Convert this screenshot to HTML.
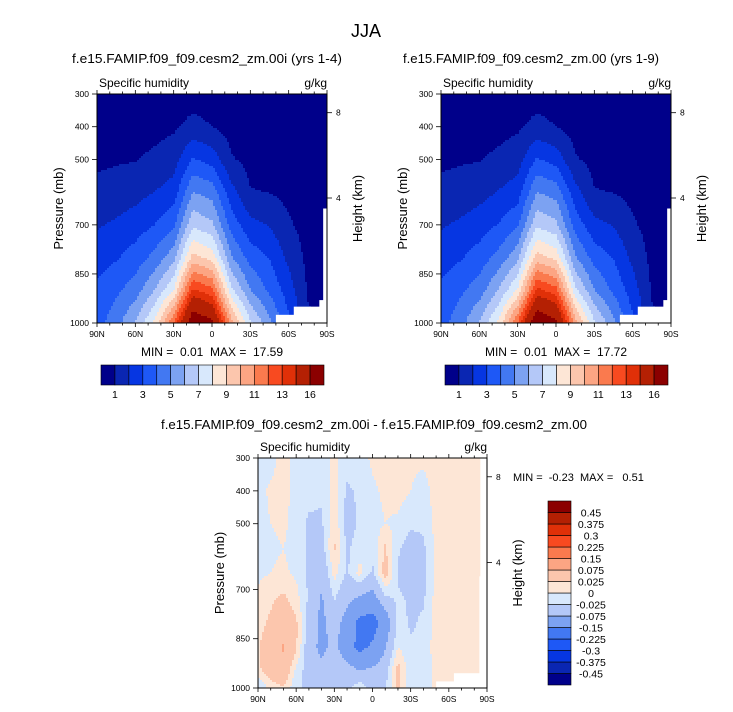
<!DOCTYPE html>
<html><head><meta charset="utf-8">
<style>
html,body{margin:0;padding:0;background:#fff;}
svg{display:block;font-family:"Liberation Sans",sans-serif;}
.pre{white-space:pre;}
</style></head>
<body>
<svg id="fig" width="733" height="712" viewBox="0 0 733 712" xmlns="http://www.w3.org/2000/svg">
<text x="366" y="37" font-size="18" text-anchor="middle">JJA</text>
</svg>
<script>
// ---------- data ----------
const lats = [90,75,60,45,30,15,0,-15,-30,-45,-60,-75,-90];
const pLevels = [300,400,500,600,700,800,900,1000];
const qA = [
 [0.3,0.5,0.8,1.3,1.9,2.55,3.2,3.6],
 [0.3,0.55,0.9,1.4,2.15,2.9,3.8,4.6],
 [0.35,0.6,0.95,1.65,2.5,3.45,4.5,6.1],
 [0.4,0.7,1.2,2.0,3.0,4.3,6.0,8.2],
 [0.45,0.85,1.55,2.45,3.8,5.6,8.0,12],
 [0.6,1.3,3.1,5.0,6.8,9.4,13.2,17.59],
 [0.5,1.0,2.6,4.6,6.2,8.6,12.3,16.4],
 [0.3,0.6,1.1,2.4,3.6,5.1,7.3,10.5],
 [0.2,0.4,0.7,1.05,2.3,3.6,5.05,7.2],
 [0.15,0.35,0.65,0.98,1.95,2.95,3.8,5.3],
 [0.1,0.25,0.45,0.7,1.15,1.75,2.5,3.2],
 [0.05,0.15,0.3,0.45,0.6,0.75,0.9,1.2],
 [0.02,0.08,0.2,0.3,0.4,0.5,0.6,0.7]
];
const qB = [
 [0.3,0.5,0.8,1.3,1.9,2.55,3.2,3.6],
 [0.3,0.55,0.9,1.4,2.15,2.9,3.8,4.6],
 [0.35,0.6,0.95,1.65,2.5,3.45,4.5,6.1],
 [0.4,0.7,1.2,2.05,3.05,4.35,6.05,8.2],
 [0.45,0.85,1.55,2.5,3.85,5.7,8.1,12.1],
 [0.6,1.3,3.1,5.0,6.8,9.5,13.3,17.72],
 [0.5,1.0,2.6,4.6,6.25,8.7,12.4,16.5],
 [0.3,0.6,1.1,2.4,3.6,5.1,7.3,10.5],
 [0.2,0.4,0.7,1.05,2.3,3.6,5.05,7.2],
 [0.15,0.35,0.65,0.98,1.95,2.95,3.8,5.3],
 [0.1,0.25,0.45,0.7,1.15,1.75,2.5,3.2],
 [0.05,0.15,0.3,0.45,0.6,0.75,0.9,1.2],
 [0.02,0.08,0.2,0.3,0.4,0.5,0.6,0.7]
];
const qLevels = [1,2,3,4,5,6,7,8,9,10,11,12,13,14,16];
const qLabels = ["1","3","5","7","9","11","13","16"];
const diffLats = [90,80,70,60,50,40,30,20,10,0,-10,-20,-30,-40,-50,-60,-70,-80,-90];
const diffP = [300,400,500,575,650,725,800,875,950,1000];
const qDiff = [
 [-0.01,-0.01,-0.01,-0.01,-0.005,0.005,0.015,0.02,0.02,-0.03],
 [-0.01,0.005,0.0,-0.005,0.0,0.02,0.03,0.05,0.04,0.01],
 [0.01,0.01,0.005,0.0,0.005,0.03,0.05,0.08,0.06,0.02],
 [-0.01,-0.01,-0.01,-0.01,-0.005,0.01,0.03,0.03,-0.01,-0.02],
 [-0.01,-0.015,-0.03,-0.03,-0.03,-0.03,-0.04,-0.05,-0.04,-0.03],
 [-0.01,-0.02,-0.03,-0.04,-0.06,-0.08,-0.09,-0.09,-0.06,-0.05],
 [0.005,0.01,0.02,0.03,0.01,-0.02,-0.05,-0.06,-0.03,-0.04],
 [-0.01,-0.03,-0.04,-0.03,-0.03,-0.06,-0.1,-0.12,-0.05,-0.04],
 [-0.01,-0.02,-0.02,-0.01,0.01,-0.08,-0.17,-0.17,-0.07,0.0],
 [0.005,-0.005,-0.01,-0.02,-0.03,-0.1,-0.18,-0.14,-0.06,-0.04],
 [0.01,0.005,0.0,0.03,0.04,-0.03,-0.12,-0.08,-0.04,-0.03],
 [0.01,0.01,-0.005,-0.02,-0.03,-0.02,-0.01,0.0,0.04,0.03],
 [0.005,0.0,-0.02,-0.04,-0.05,-0.03,-0.03,-0.02,-0.02,-0.02],
 [0.005,-0.01,-0.02,-0.03,-0.03,-0.03,-0.02,-0.02,-0.02,-0.02],
 [0.01,0.01,0.01,0.005,0.005,0.01,0.01,0.015,0.01,0.01],
 [0.01,0.01,0.015,0.01,0.01,0.01,0.01,0.01,0.01,0.01],
 [0.005,0.01,0.01,0.01,0.005,0.01,0.01,0.01,0.01,0.01],
 [0.01,0.01,0.01,0.01,0.01,0.01,0.01,0.01,0.01,0.01],
 [-0.01,-0.01,-0.01,-0.01,-0.01,-0.01,-0.01,-0.01,-0.01,-0.01]
];
const diffLevels = [-0.45,-0.375,-0.3,-0.225,-0.15,-0.075,-0.025,0,0.025,0.075,0.15,0.225,0.3,0.375,0.45];
const diffLabels = ["-0.45","-0.375","-0.3","-0.225","-0.15","-0.075","-0.025","0","0.025","0.075","0.15","0.225","0.3","0.375","0.45"];
const missingA = [[-50,-64,975],[-64,-84,950],[-84,-87,930],[-87,-90,650]];
const missingD = [[-50,-64,980],[-64,-84,955],[-84,-90,660]];
const pTicks = [300,400,500,700,850,1000];
const latTicks = [90,60,30,0,-30,-60,-90];
const latTickLabels = ["90N","60N","30N","0","30S","60S","90S"];
const hTicks = [8,4];
const colors = ["#00008a","#0a26b2","#0636e2","#1e58f6","#4278f2","#7ca2f2","#b4c8f8","#d8e8fc",
 "#fde6d6","#fcc6ad","#fca583","#fa7a4e","#f84a20","#e03008","#b42003","#8b0000"];

// ---------- drawing ----------
const NS="http://www.w3.org/2000/svg";
const svg=document.getElementById('fig');
function mk(tag,attrs,parent){const e=document.createElementNS(NS,tag);for(const k in attrs)e.setAttribute(k,attrs[k]);(parent||svg).appendChild(e);return e;}
function txt(x,y,s,size,anchor,parent,extra){const t=mk('text',Object.assign({x:x,y:y,'font-size':size,'text-anchor':anchor||'start'},extra||{}),parent);t.textContent=s;return t;}

function interp(latArr,pArr,vals,lat,p){
  let i=0;while(i<latArr.length-2&&lat<latArr[i+1])i++;
  let j=0;while(j<pArr.length-2&&p>pArr[j+1])j++;
  const fx=(latArr[i]-lat)/(latArr[i]-latArr[i+1]);
  const fy=(p-pArr[j])/(pArr[j+1]-pArr[j]);
  const a=vals[i][j],b=vals[i+1][j],c=vals[i][j+1],d=vals[i+1][j+1];
  return a*(1-fx)*(1-fy)+b*fx*(1-fy)+c*(1-fx)*fy+d*fx*fy;
}
function levelIndex(v,lev){let k=0;while(k<lev.length&&v>=lev[k])k++;return k;}

function panel(name,x0,y0,w,h,latArr,pArr,vals,lev,missing,opts){
  const g=mk('g',{});
  
  
  const xS=lat=>x0+(90-lat)/180*w;
  const yS=p=>y0+(p-300)/700*h;
  const st=2;
  const cells=mk('g',{},g);
  
  
  for(let py=0;py<h;py+=st){
    const p=300+(py+st/2)/h*700;
    let runStart=0,runCol=null;
    const hh=Math.min(st,h-py);
    for(let px=0;px<=w;px+=st){
      let col=null;
      if(px<w){const lat=90-(px+st/2)/w*180;col=colors[levelIndex(interp(latArr,pArr,vals,lat,p),lev)];}
      if(col!==runCol){
        if(runCol!==null){const r=mk('rect',{x:x0+runStart,y:y0+py,width:Math.min(px,w)-runStart+0.3,height:hh+0.3,fill:runCol},cells);
          
          }
        runStart=px;runCol=col;
      }
    }
  }
  missing.forEach(m=>{const r=mk('rect',{x:xS(m[0]),y:yS(m[2]),width:xS(m[1])-xS(m[0])+0.5,height:y0+h-yS(m[2]),fill:'#fff'},g);
    
    });
  const fr=mk('rect',{x:x0,y:y0,width:w,height:h,fill:'none',stroke:'#000','stroke-width':1},g);
  
  
  for(let lat=90;lat>=-90;lat-=10){
    const major=(lat%30===0);const x=xS(lat);const L=major?4:2.5;
    mk('line',{x1:x,y1:y0+h,x2:x,y2:y0+h+L,stroke:'#000','stroke-width':0.8},g);
    mk('line',{x1:x,y1:y0,x2:x,y2:y0-L,stroke:'#000','stroke-width':0.8},g);
  }
  latTicks.forEach((lat,k)=>{const t=txt(xS(lat),y0+h+14,latTickLabels[k],8.5,'middle',g);
    
    });
  pTicks.forEach(p=>{const y=yS(p);mk('line',{x1:x0-5,y1:y,x2:x0,y2:y,stroke:'#000','stroke-width':0.8},g);
    const t=txt(x0-8,y+3,String(p),8.5,'end',g);
    
    });
  const hOff={8:18.7,4:104};
  hTicks.forEach(hk=>{const y=y0+hOff[hk]*h/229;mk('line',{x1:x0+w,y1:y,x2:x0+w+5,y2:y,stroke:'#000','stroke-width':0.8},g);
    const t=txt(x0+w+9,y+3,String(hk),8.5,'start',g);
    
    });
  const t1=txt(x0+2,y0-7,'Specific humidity',12,'start',g);
  
  
  const t2=txt(x0+w,y0-7,'g/kg',12,'end',g);
  
  
  const ya=txt(0,0,'Pressure (mb)',13,'middle',g,{transform:`translate(${x0-34},${y0+h/2}) rotate(-90)`});
  
  
  const yb=txt(0,0,'Height (km)',13,'middle',g,{transform:`translate(${x0+w+35},${y0+h/2}) rotate(-90)`});
  
  
  const tt=txt(opts.tx,opts.ty,opts.title,13,'middle',g,{textLength:opts.tl,lengthAdjust:'spacingAndGlyphs'});
  
  
}

function hColorbar(name,x0,y0,w,h,labels){
  const g=mk('g',{});
  
  
  const bw=w/colors.length;
  colors.forEach((c,k)=>{const r=mk('rect',{x:x0+k*bw,y:y0,width:bw,height:h,fill:c,stroke:'#000','stroke-width':0.6},g);
    
    });
  labels.forEach((s,k)=>{const t=txt(x0+(1+2*k)*bw,y0+h+13,s,10.5,'middle',g);
    
    });
}
function vColorbar(name,x0,y0,w,h,labels){
  const g=mk('g',{});
  
  
  const bh=h/colors.length;
  colors.forEach((c,k)=>{const r=mk('rect',{x:x0,y:y0+(colors.length-1-k)*bh,width:w,height:bh,fill:c,stroke:'#000','stroke-width':0.6},g);
    
    });
  labels.forEach((s,k)=>{const y=y0+(colors.length-1-k)*bh;const t=txt(x0+w+20,y+4,s,10.5,'middle',g);
    
    });
}

panel('left-panel',97,94,230,229,lats,pLevels,qA,qLevels,missingA,{tx:207,ty:63,tl:270,title:'f.e15.FAMIP.f09_f09.cesm2_zm.00i (yrs 1-4)'});
panel('right-panel',441,94,230,229,lats,pLevels,qB,qLevels,missingA,{tx:531,ty:63,tl:256,title:'f.e15.FAMIP.f09_f09.cesm2_zm.00 (yrs 1-9)'});
panel('diff-panel',258,458,229,230,diffLats,diffP,qDiff,diffLevels,missingD,{tx:374,ty:429,tl:426,title:'f.e15.FAMIP.f09_f09.cesm2_zm.00i - f.e15.FAMIP.f09_f09.cesm2_zm.00'});
hColorbar('left-colorbar',101,365,223,20,qLabels);
hColorbar('right-colorbar',445,365,223,20,qLabels);
vColorbar('diff-colorbar',548,501,23,184,diffLabels);
let m;
m=txt(212,356,'MIN =  0.01  MAX =  17.59',12,'middle',null,{class:'pre'});


m=txt(556,356,'MIN =  0.01  MAX =  17.72',12,'middle',null,{class:'pre'});


m=txt(513,481,'MIN =  -0.23  MAX =   0.51',11,'start',null,{class:'pre'});


</script>
</body></html>
